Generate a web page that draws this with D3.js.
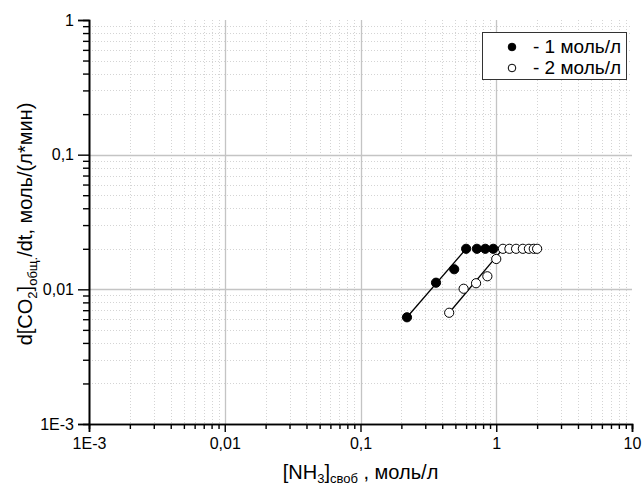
<!DOCTYPE html>
<html>
<head>
<meta charset="utf-8">
<script src="https://cdn.jsdelivr.net/npm/d3@7"></script>
<style>
  html, body { margin: 0; padding: 0; background: #fff; }
  svg { display: block; font-family: "Liberation Sans", Arial, sans-serif; }
</style>
</head>
<body>
<svg id="chart" width="643" height="489"></svg>
<script>
// Series 1 — 1 моль/л (filled markers)
const series1X = [0.22, 0.36, 0.49, 0.60, 0.72, 0.83, 0.95];
const series1Y = [0.0062, 0.0112, 0.0141, 0.020, 0.020, 0.020, 0.020];
// Series 2 — 2 моль/л (open markers)
const series2X = [0.45, 0.575, 0.71, 0.86, 1.0, 1.12, 1.25, 1.40, 1.57, 1.74, 1.89, 2.0];
const series2Y = [0.0067, 0.0101, 0.0111, 0.0125, 0.0168, 0.020, 0.020, 0.020, 0.020, 0.020, 0.020, 0.020];
// Linear-region fit lines (start and end of each)
const fit1X = [0.22, 0.60];
const fit1Y = [0.0062, 0.020];
const fit2X = [0.45, 1.12];
const fit2Y = [0.0067, 0.020];

const xTickValues = [1e-3, 1e-2, 1e-1, 1, 10];
const xTickLabels = ["1E-3", "0,01", "0,1", "1", "10"];
const yTickValues = [1e-3, 1e-2, 1e-1, 1];
const yTickLabels = ["1E-3", "0,01", "0,1", "1"];
const legendLabels = ["- 1 моль/л", "- 2 моль/л"];

const svg = d3.select("#chart");
const plotLeft = 89, plotRight = 632, plotTop = 20, plotBottom = 424;

const x = d3.scaleLog().domain([1e-3, 10]).range([plotLeft, plotRight]);
const y = d3.scaleLog().domain([1e-3, 1]).range([plotBottom, plotTop]);

// minor values 2..9 within each decade
function minorValues(lo, hi) {
  const out = [];
  for (let e = Math.round(Math.log10(lo)); e < Math.round(Math.log10(hi)); e++) {
    for (let m = 2; m <= 9; m++) out.push(m * Math.pow(10, e));
  }
  return out;
}
const xMinor = minorValues(1e-3, 10);
const yMinor = minorValues(1e-3, 1);

// Grid
const grid = svg.append("g");
grid.selectAll(".gxm").data(xMinor).enter().append("line")
  .attr("x1", d => Math.round(x(d)) + 0.5).attr("x2", d => Math.round(x(d)) + 0.5)
  .attr("y1", plotTop).attr("y2", plotBottom)
  .attr("stroke", "#d4d4d4").attr("stroke-width", 1).attr("stroke-dasharray", "1,2");
grid.selectAll(".gym").data(yMinor).enter().append("line")
  .attr("y1", d => Math.round(y(d)) + 0.5).attr("y2", d => Math.round(y(d)) + 0.5)
  .attr("x1", plotLeft).attr("x2", plotRight)
  .attr("stroke", "#d4d4d4").attr("stroke-width", 1).attr("stroke-dasharray", "1,2");
grid.selectAll(".gx").data([1e-2, 1e-1, 1]).enter().append("line")
  .attr("x1", d => Math.round(x(d)) + 0.5).attr("x2", d => Math.round(x(d)) + 0.5)
  .attr("y1", plotTop).attr("y2", plotBottom)
  .attr("stroke", "#c4c4c4").attr("stroke-width", 1.3);
grid.selectAll(".gy").data([1e-2, 1e-1]).enter().append("line")
  .attr("y1", d => Math.round(y(d)) + 0.5).attr("y2", d => Math.round(y(d)) + 0.5)
  .attr("x1", plotLeft).attr("x2", plotRight)
  .attr("stroke", "#c4c4c4").attr("stroke-width", 1.3);

// Axes
const xAxisMinor = d3.axisBottom(x).tickValues(xMinor).tickSize(5).tickFormat("");
const xAxisMajor = d3.axisBottom(x).tickValues(xTickValues).tickSize(8).tickPadding(6)
  .tickFormat((d, i) => xTickLabels[i]);
const yAxisMinor = d3.axisLeft(y).tickValues(yMinor).tickSize(6).tickFormat("");
const yAxisMajor = d3.axisLeft(y).tickValues(yTickValues).tickSize(11).tickPadding(4)
  .tickFormat((d, i) => yTickLabels[i]);

function styleAxis(g) {
  g.selectAll("path").attr("stroke", "#000").attr("stroke-width", 1.6);
  g.selectAll("line").attr("stroke", "#000").attr("stroke-width", 1.4);
  g.selectAll("text").attr("fill", "#000").attr("font-size", 16)
    .attr("font-family", "'Liberation Sans', Arial, sans-serif");
}
svg.append("g").attr("transform", `translate(0,${plotBottom})`).call(xAxisMinor).call(styleAxis);
svg.append("g").attr("transform", `translate(0,${plotBottom})`).call(xAxisMajor).call(styleAxis);
svg.append("g").attr("transform", `translate(${plotLeft},0)`).call(yAxisMinor).call(styleAxis);
svg.append("g").attr("transform", `translate(${plotLeft},0)`).call(yAxisMajor).call(styleAxis);

// Fit lines
const line = d3.line().x(d => x(d[0])).y(d => y(d[1]));
svg.append("path").datum(fit1X.map((v, i) => [v, fit1Y[i]]))
  .attr("d", line).attr("fill", "none").attr("stroke", "#000").attr("stroke-width", 1.3);
svg.append("path").datum(fit2X.map((v, i) => [v, fit2Y[i]]))
  .attr("d", line).attr("fill", "none").attr("stroke", "#000").attr("stroke-width", 1.3);

// Markers
svg.append("g").selectAll("circle").data(series2X.map((v, i) => [v, series2Y[i]])).enter()
  .append("circle").attr("cx", d => x(d[0])).attr("cy", d => y(d[1])).attr("r", 4.6)
  .attr("fill", "#fff").attr("stroke", "#000").attr("stroke-width", 1);
svg.append("g").selectAll("circle").data(series1X.map((v, i) => [v, series1Y[i]])).enter()
  .append("circle").attr("cx", d => x(d[0])).attr("cy", d => y(d[1])).attr("r", 4.6)
  .attr("fill", "#000").attr("stroke", "#000").attr("stroke-width", 1);

// Legend
const lg = svg.append("g");
lg.append("rect").attr("x", 482.5).attr("y", 32.5).attr("width", 144).attr("height", 47)
  .attr("fill", "#fff").attr("stroke", "#333").attr("stroke-width", 1);
legendLabels.forEach((t, i) => {
  const cy = 47 + i * 21;
  lg.append("circle").attr("cx", 512).attr("cy", cy).attr("r", 3.8)
    .attr("fill", i === 0 ? "#000" : "#fff").attr("stroke", "#000").attr("stroke-width", 1);
  lg.append("text").attr("x", 533).attr("y", cy + 6).attr("font-size", 19).text(t);
});

// Axis titles
const xt = svg.append("text").attr("x", (plotLeft + plotRight) / 2).attr("y", 479)
  .attr("text-anchor", "middle").attr("font-size", 20);
xt.append("tspan").text("[NH");
xt.append("tspan").attr("font-size", 13).attr("dy", 4).text("3");
xt.append("tspan").attr("dy", -4).text("]");
xt.append("tspan").attr("font-size", 13).attr("dy", 4).text("своб");
xt.append("tspan").attr("dy", -4).text(" , моль/л");

const yt = svg.append("text")
  .attr("transform", `translate(32,${(plotTop + plotBottom) / 2 + 2}) rotate(-90)`)
  .attr("text-anchor", "middle").attr("font-size", 20);
yt.append("tspan").text("d[CO");
yt.append("tspan").attr("font-size", 13).attr("dy", 5).text("2");
yt.append("tspan").attr("dy", -5).text("]");
yt.append("tspan").attr("font-size", 13).attr("dy", 5).text("общ.");
yt.append("tspan").attr("dy", -5).text("/dt, моль/(л*мин)");
</script>
</body>
</html>
